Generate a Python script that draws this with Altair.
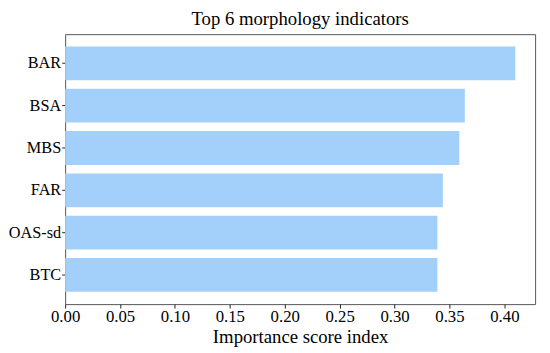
import altair as alt
import pandas as pd

indicators = ["BAR", "BSA", "MBS", "FAR", "OAS-sd", "BTC"]
scores = [0.41, 0.364, 0.359, 0.344, 0.339, 0.339]
x_ticks = [0.00, 0.05, 0.10, 0.15, 0.20, 0.25, 0.30, 0.35, 0.40]

df = pd.DataFrame({"indicator": indicators, "score": scores})

FONT = "Times New Roman, Liberation Serif, serif"

chart = alt.Chart(df).mark_bar(color="#a3d0fa").encode(
    x=alt.X(
        "score:Q",
        scale=alt.Scale(domain=[0, 0.428], nice=False, zero=True),
        axis=alt.Axis(
            title="Importance score index",
            values=x_ticks,
            format=".2f",
            grid=False,
            tickSize=4,
            tickColor="#222222",
            domain=False,
            labelFont=FONT,
            labelFontSize=17,
            labelColor="black",
            labelPadding=1,
            labelFlush=False,
            labelOverlap=False,
            titleFont=FONT,
            titleFontSize=19,
            titleFontWeight="normal",
            titleColor="black",
            titlePadding=3,
        ),
    ),
    y=alt.Y(
        "indicator:N",
        sort=indicators,
        scale=alt.Scale(paddingInner=0.2, paddingOuter=0.29),
        axis=alt.Axis(
            title=None,
            grid=False,
            tickSize=3.5,
            tickColor="#222222",
            domain=False,
            labelFont=FONT,
            labelFontSize=16.5,
            labelColor="black",
            labelPadding=1,
        ),
    ),
).properties(
    width=477,
    height=274,
    title=alt.TitleParams(
        "Top 6 morphology indicators",
        font=FONT,
        fontSize=19,
        fontWeight="normal",
        color="black",
        offset=5,
    ),
    autosize=alt.AutoSizeParams(type="none"),
    padding={"left": 58, "top": 24, "right": 7, "bottom": 44},
).configure_view(
    stroke="#555555",
    strokeWidth=1,
)

chart.save("out.html", embed_options={"renderer": "svg", "actions": False})
